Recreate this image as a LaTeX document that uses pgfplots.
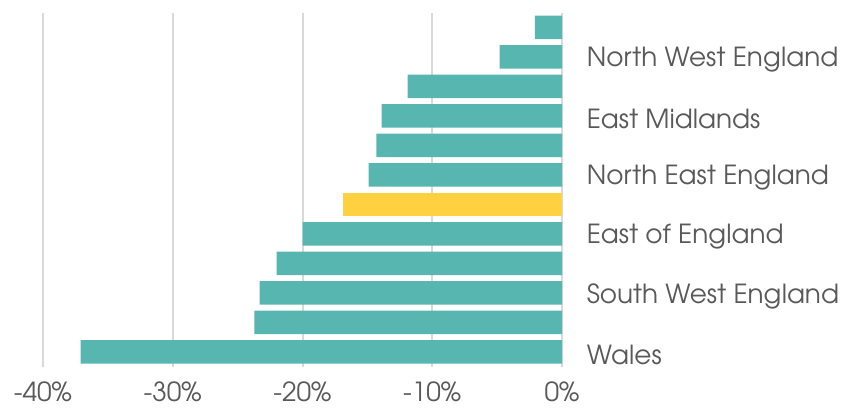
\documentclass[border=0pt]{standalone}
\usepackage{pgfplots}
\pgfplotsset{compat=1.18}
\usepackage{fontspec}
\setmainfont{TeX Gyre Adventor}
\definecolor{teal1}{HTML}{58B6B1}
\definecolor{gold1}{HTML}{FFD040}
\definecolor{gridc}{HTML}{D9D9D9}
\definecolor{txt}{HTML}{595959}
\begin{document}
\begin{tikzpicture}
\path[use as bounding box] (-43bp,-44.3bp) rectangle (804bp,366.7bp);
\begin{axis}[
  at={(0,0)}, anchor=south west,
  scale only axis, width=519bp, height=354bp,
  xmin=-40, xmax=0, ymin=-0.5, ymax=11.5,
  xbar, bar width=0.8, bar shift=0pt,
  axis line style={draw=none},
  major tick style={draw=none},
  xmajorgrids, grid style={gridc, line width=2bp},
  xtick={-40,-30,-20,-10,0},
  xticklabels={-40\%,-30\%,-20\%,-10\%,0\%},
  ytick={0,2,4,6,8,10},
  yticklabels={Wales,South West England,East of England,North East England,East Midlands,North West England},
  yticklabel pos=right,
  yticklabel style={anchor=west, xshift=17bp, yshift=-3bp},
  ticklabel style={font=\fontsize{26.3bp}{30bp}\selectfont, text=txt},
  xticklabel style={yshift=-12bp},
]
\addplot[fill=teal1, draw=none] coordinates {
(-2.1,11) (-4.8,10) (-11.9,9) (-13.9,8) (-14.3,7) (-14.9,6)
(-20.0,4) (-22.0,3) (-23.3,2) (-23.7,1) (-37.1,0)};
\addplot[fill=gold1, draw=none] coordinates {(-16.9,5)};
\end{axis}
\end{tikzpicture}
\end{document}
